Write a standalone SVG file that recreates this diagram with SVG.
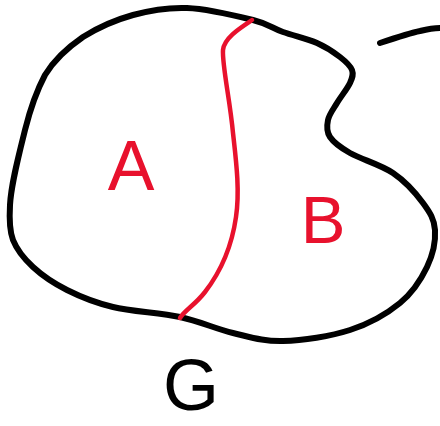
<svg xmlns="http://www.w3.org/2000/svg" width="440" height="426" viewBox="0 0 440 426">
<style>
.ink{fill:none;stroke:#000;stroke-width:6;stroke-linecap:round;stroke-linejoin:round}
.red{fill:none;stroke:#e8112d;stroke-width:4.5;stroke-linecap:round;stroke-linejoin:round}
.lbl{font-family:"Liberation Sans",Arial,sans-serif;text-anchor:middle}
.rl{fill:#e8112d}
.bl{fill:#000}
</style>
<rect width="440" height="426" fill="#fff"/>
<g id="connectors">
<path id="outline" class="ink" d="M253,20 C237,16 207,8.8 187,8 C167,7.2 150.3,10.2 133,15 C115.7,19.8 96.8,28.3 83,37 C67,48 54,60 45,75 C36,92 30,110 25,130 C18,158 11,185 10,205 C9,222 10,232 13,240 C17,250 24,258.7 33,267 C42,275.3 53.7,283.3 67,290 C80.3,296.7 94.2,302.5 113,307 C131.8,311.5 160,312.7 180,317 C200,321.3 215.8,329 233,333 C250.2,337 263.5,341.5 283,341 C302.5,340.5 330.5,336.3 350,330 C369.5,323.7 387.2,313.5 400,303 C412.8,292.5 421.2,279.2 427,267 C432.8,254.8 435.7,240.7 435,230 C434.3,219.3 430,212.5 423,203 C416,193.5 405.2,181.3 393,173 C380.8,164.7 360.5,159 350,153 C339.5,147 333.7,142.5 330,137 C326.3,131.5 326.8,125.7 328,120 C329.2,114.3 333.3,109.2 337,103 C340.7,96.8 347.5,88.5 350,83 C352.5,77.5 353.7,74.3 352,70 C350.3,65.7 345.8,61.5 340,57 C334.2,52.5 326.5,47.2 317,43 C307.5,38.8 293.7,35.8 283,32 C272.3,28.2 269,24 253,20 Z"/>
<path id="divider" class="red" d="M252,20 C240,28 224,38 223,50 C222,65 230,100 233,133 C236,160 240,190 236,217 C232,245 222,270 205,292 C195,305 185,310 180,318"/>
<path id="edge-stroke" class="ink" d="M380,43 C395,38 410,33 420,31 C428,29 435,28 440,28"/>
</g>
<g id="node-A"><text class="lbl rl" x="131" y="190" font-size="70">A</text></g>
<g id="node-B"><text class="lbl rl" x="323" y="243" font-size="67">B</text></g>
<g id="node-G"><text class="lbl bl" x="191" y="410" font-size="72">G</text></g>
</svg>
